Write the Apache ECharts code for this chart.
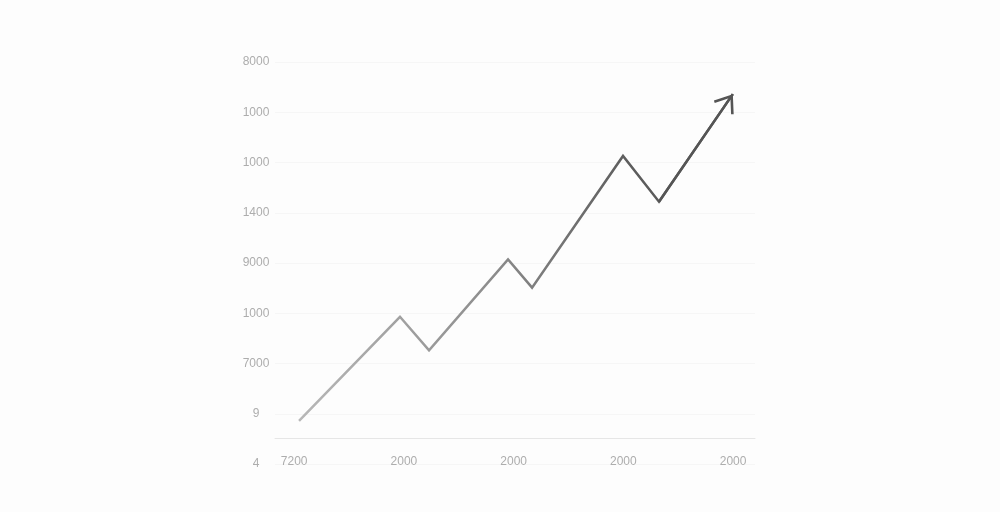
<!DOCTYPE html>
<html><head><meta charset="utf-8">
<script src="https://cdn.jsdelivr.net/npm/echarts@6/dist/echarts.min.js"></script>
<style>html,body{margin:0;padding:0;background:#fdfdfd}#c{width:1000px;height:512px}</style>
</head><body><div id="c"></div>
<script>
// Tick labels (as printed in the reference)
const xTickLabels = ['7200', '2000', '2000', '2000', '2000'];
const xTickValues = [0, 1, 2, 3, 4];
const yTickLabels = ['4', '9', '7000', '1000', '9000', '1400', '1000', '1000', '8000'];
// Series points (x in tick-units, y in tick-units)
const xValues = [0.044, 0.964, 1.229, 1.949, 2.168, 2.997, 3.325, 3.998];
const yValues = [0.86, 2.93, 2.26, 4.07, 3.51, 6.13, 5.22, 7.36];

const points = xValues.map((x, i) => [x, yValues[i]]);
const n = points.length;

const arrowPath = 'path://M0,-17.56 L0.01,-17.56 L0,-17.55 Z M0,0 L12,16 L9.92,17.56 L0,4.33 L-9.92,17.56 L-12,16 Z';

const chart = echarts.init(document.getElementById('c'), null, {renderer: 'canvas'});
chart.setOption({
  backgroundColor: '#fdfdfd',
  animation: false,
  grid: {left: 275, right: 245, top: 62, bottom: 48},
  xAxis: {
    type: 'value',
    min: -0.175,
    max: 4.2,
    offset: -26,
    axisLine: {show: true, lineStyle: {color: '#e6e6e6', width: 1}},
    axisTick: {show: false},
    splitLine: {show: false},
    axisLabel: {
      customValues: xTickValues,
      formatter: v => xTickLabels[Math.round(v)],
      color: '#adadad',
      fontSize: 12,
      fontFamily: 'Liberation Sans',
      margin: 18
    }
  },
  yAxis: {
    type: 'value',
    min: 0,
    max: 8,
    interval: 1,
    axisLine: {show: false},
    axisTick: {show: false},
    splitLine: {show: true, lineStyle: {color: '#f6f6f6', width: 1}},
    axisLabel: {
      formatter: v => yTickLabels[Math.round(v)],
      color: '#adadad',
      fontSize: 12,
      fontFamily: 'Liberation Sans',
      align: 'center',
      margin: 19
    }
  },
  series: [{
    type: 'line',
    data: points,
    symbol: 'none',
    lineStyle: {
      width: 2.5,
      join: 'miter',
      color: new echarts.graphic.LinearGradient(0, 0, 1, 0, [
        {offset: 0, color: '#b8b8b8'},
        {offset: 0.45, color: '#8c8c8c'},
        {offset: 0.75, color: '#5e5e5e'},
        {offset: 1, color: '#525252'}
      ])
    },
    markLine: {
      silent: true,
      symbol: ['none', arrowPath],
      symbolSize: [24, 35.12],
      label: {show: false},
      lineStyle: {color: '#555555', width: 2.5, type: 'solid'},
      data: [[{coord: points[n - 2]}, {coord: points[n - 1]}]]
    }
  }]
});
</script>
</body></html>
